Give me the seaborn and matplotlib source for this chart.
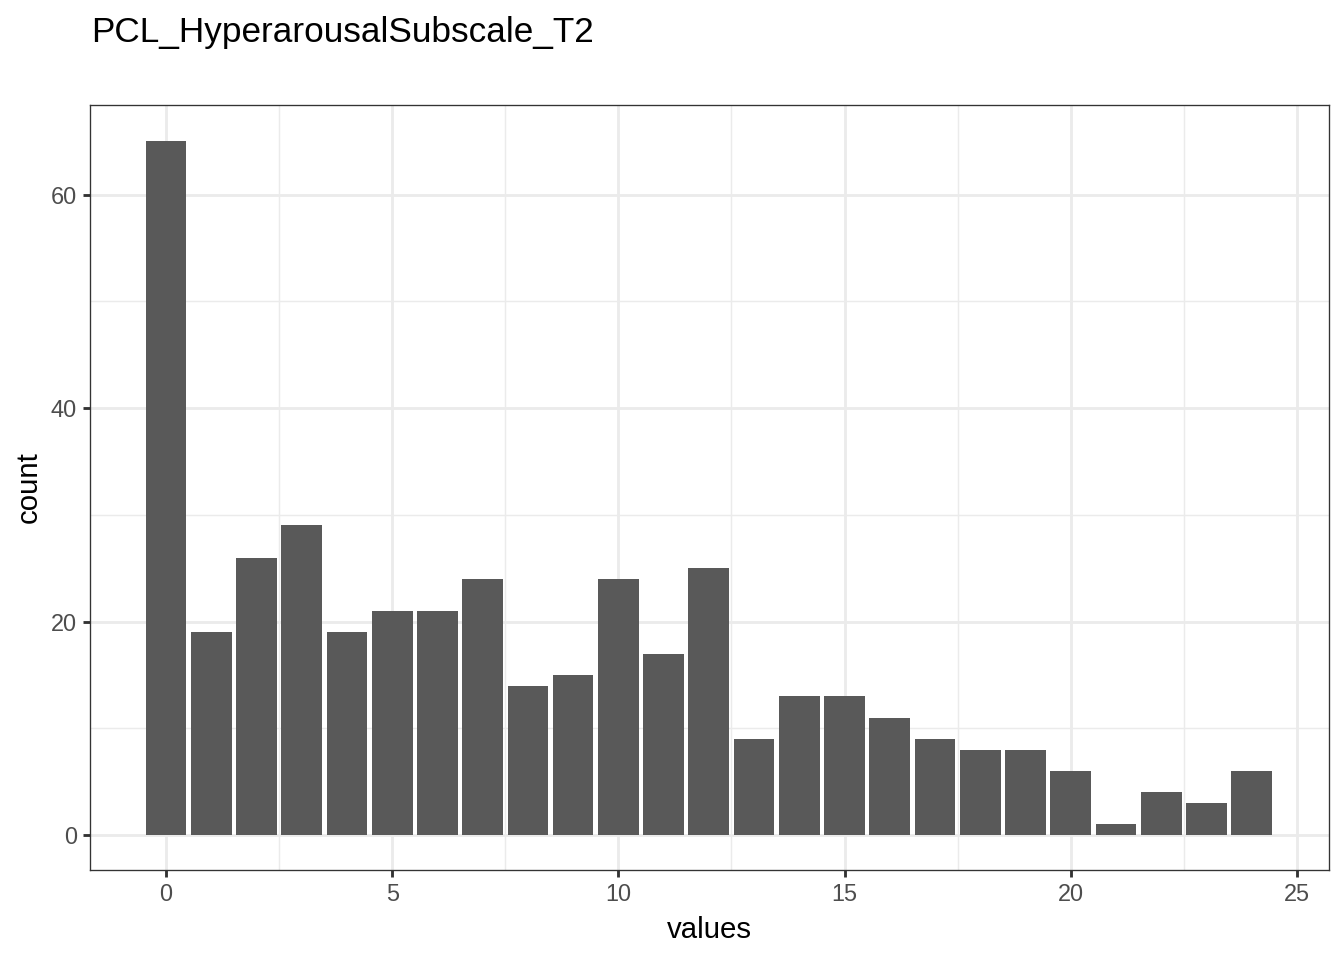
import numpy as np
import pandas as pd
import matplotlib
matplotlib.use("Agg")
import matplotlib.pyplot as plt
import seaborn as sns

values = list(range(25))
counts = [65, 19, 26, 29, 19, 21, 21, 24, 14, 15, 24, 17, 25, 9, 13, 13, 11, 9, 8, 8, 6, 1, 4, 3, 6]
title = "PCL_HyperarousalSubscale_T2"

df = pd.DataFrame({"values": values, "count": counts})

sns.set_theme(style="white")
plt.rcParams["font.family"] = ["Liberation Sans", "DejaVu Sans"]

fig = plt.figure(figsize=(7, 5), dpi=192)
ax = fig.add_axes([90 / 1344, 1 - 870 / 960, (1329 - 90) / 1344, (870 - 105) / 960])

sns.barplot(data=df, x="values", y="count", native_scale=True, width=0.9,
            color="#595959", saturation=1, linewidth=0, ax=ax, zorder=3)

ax.set_xlim(-1.68, 25.71)
ax.set_ylim(-3.28, 68.4)
ax.set_xticks([0, 5, 10, 15, 20, 25])
ax.set_xticks([2.5, 7.5, 12.5, 17.5, 22.5], minor=True)
ax.set_yticks([0, 20, 40, 60])
ax.set_yticks([10, 30, 50], minor=True)
ax.grid(which="major", color="#EBEBEB", lw=1.07, zorder=0)
ax.grid(which="minor", color="#EBEBEB", lw=0.53, zorder=0)
ax.set_axisbelow(True)

for s in ax.spines.values():
    s.set_color("#333333")
    s.set_linewidth(0.5)

ax.tick_params(which="major", length=2.75, width=1.07, color="#333333",
               labelsize=8.8, labelcolor="#4D4D4D", pad=2.2,
               bottom=True, left=True)
ax.tick_params(which="minor", length=0)

ax.set_xlabel("values", fontsize=11, color="black", labelpad=3.5)
ax.set_ylabel("count", fontsize=11, color="black", labelpad=3)

fig.text(91 / 1344, 1 - 42 / 960, title, fontsize=13.2, color="black",
         ha="left", va="baseline")

fig.savefig("out.png", dpi=192)
